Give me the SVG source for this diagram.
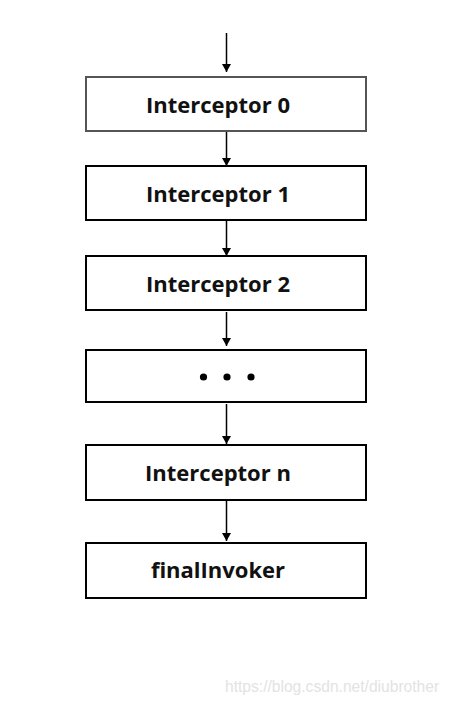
<svg xmlns="http://www.w3.org/2000/svg" width="451" height="705" viewBox="0 0 451 705">
<style>
.box{fill:#fff;stroke:#000;stroke-width:2}
.lbl{font-family:"Open Sans","Liberation Sans",sans-serif;font-weight:700;font-size:22px;fill:#111;text-anchor:middle}
.con{stroke:#000;stroke-width:1.5;fill:none;marker-end:url(#ah)}
.wm{font-family:"Liberation Sans",Arial,sans-serif;font-size:15.6px;fill:#e3e3e3}
</style>
<defs>
<marker id="ah" viewBox="0 0 8 9" refX="8" refY="4.5" markerWidth="8" markerHeight="9" markerUnits="userSpaceOnUse" orient="auto">
<path d="M0,0 L8,4.5 L0,9 Z" fill="#000"/>
</marker>
</defs>
<rect width="451" height="705" fill="#fff"/>
<g id="connectors">
<line class="con" x1="226.5" y1="33" x2="226.5" y2="72"/>
<line class="con" x1="226.5" y1="131" x2="226.5" y2="166"/>
<line class="con" x1="226.5" y1="221" x2="226.5" y2="256"/>
<line class="con" x1="226.5" y1="312" x2="226.5" y2="346"/>
<line class="con" x1="226.5" y1="404" x2="226.5" y2="444"/>
<line class="con" x1="226.5" y1="500" x2="226.5" y2="541"/>
</g>
<g id="n0"><rect class="box" x="86" y="77" width="280" height="54" style="stroke:#555"/><text class="lbl" x="218" y="113">Interceptor 0</text></g>
<g id="n1"><rect class="box" x="86" y="166" width="280" height="54"/><text class="lbl" x="218" y="202">Interceptor 1</text></g>
<g id="n2"><rect class="box" x="86" y="256" width="280" height="54"/><text class="lbl" x="218" y="292">Interceptor 2</text></g>
<g id="ndots"><rect class="box" x="86" y="350" width="280" height="52"/><circle cx="203.5" cy="377" r="3.6"/><circle cx="227" cy="377" r="3.6"/><circle cx="251" cy="377" r="3.6"/></g>
<g id="nn"><rect class="box" x="86" y="445" width="280" height="55"/><text class="lbl" x="218" y="481">Interceptor n</text></g>
<g id="final"><rect class="box" x="86" y="543" width="280" height="55"/><text class="lbl" x="218" y="578">finalInvoker</text></g>
<text class="wm" x="225" y="692">https://blog.csdn.net/diubrother</text>
</svg>
